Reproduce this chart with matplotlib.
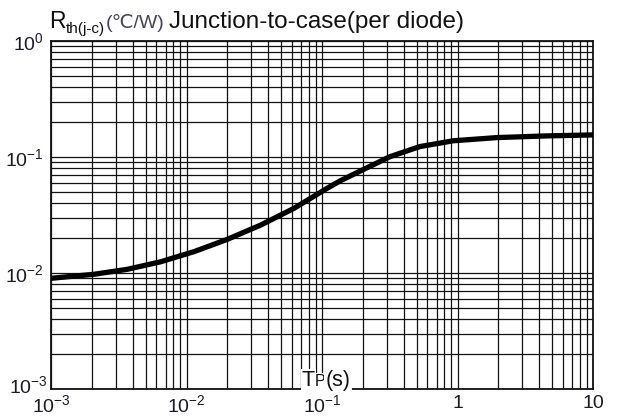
import matplotlib
matplotlib.use("Agg")
import matplotlib.pyplot as plt
from matplotlib.ticker import FixedLocator, FixedFormatter, LogLocator, NullFormatter
from matplotlib.transforms import IdentityTransform

plt.rcParams['font.family'] = ['Liberation Sans', 'DejaVu Sans']
plt.rcParams['mathtext.fontset'] = 'custom'
plt.rcParams['mathtext.rm'] = 'Liberation Sans'

# Data
tp = [0.001, 0.00208, 0.00366, 0.00645, 0.0114, 0.02, 0.0353, 0.0621, 0.109,
      0.137, 0.202, 0.318, 0.528, 0.931, 1.95, 4.55, 10]
rth = [0.0090, 0.00975, 0.01076, 0.0125, 0.0153, 0.0195, 0.0259, 0.0361, 0.0537,
       0.0625, 0.078, 0.1007, 0.123, 0.138, 0.147, 0.152, 0.155]

x_ticks = [1e-3, 1e-2, 1e-1, 1, 10]
x_labels = [r'$\mathregular{10^{-3}}$', r'$\mathregular{10^{-2}}$',
            r'$\mathregular{10^{-1}}$', '1', '10']
y_ticks = [1e-3, 1e-2, 1e-1, 1]
y_labels = [r'$\mathregular{10^{-3}}$', r'$\mathregular{10^{-2}}$',
            r'$\mathregular{10^{-1}}$', r'$\mathregular{10^{0}}$']

W, H = 619, 419
fig = plt.figure(figsize=(W / 100, H / 100), dpi=100)
ax = fig.add_axes([51 / W, 1 - 389 / H, 542 / W, 348 / H])
ax.set_xscale('log')
ax.set_yscale('log')
ax.set_xlim(1e-3, 10)
ax.set_ylim(1e-3, 1)

ax.xaxis.set_major_locator(FixedLocator(x_ticks))
ax.xaxis.set_major_formatter(FixedFormatter(x_labels))
ax.yaxis.set_major_locator(FixedLocator(y_ticks))
# bottom y label is drawn separately (raised slightly, as in the reference)
ax.yaxis.set_major_formatter(FixedFormatter([''] + y_labels[1:]))
ax.xaxis.set_minor_locator(LogLocator(base=10, subs=range(2, 10), numticks=20))
ax.yaxis.set_minor_locator(LogLocator(base=10, subs=range(2, 10), numticks=20))
ax.xaxis.set_minor_formatter(NullFormatter())
ax.yaxis.set_minor_formatter(NullFormatter())

ax.grid(True, which='both', color='#111111', linewidth=0.9)
ax.tick_params(which='both', length=0, labelsize=14, labelcolor='#1a1a2a')
ax.tick_params(axis='x', pad=4)
ax.tick_params(axis='y', pad=5)
for s in ax.spines.values():
    s.set_linewidth(1.3)
    s.set_color('#111111')

ax.plot(tp, rth, color='black', linewidth=3.8, solid_capstyle='round',
        solid_joinstyle='round', zorder=5)

fig.canvas.draw()
renderer = fig.canvas.get_renderer()
ident = IdentityTransform()


def place(s, x, base_from_top, ha='left', **kw):
    t = fig.text(x, H - base_from_top, s, transform=ident, va='baseline',
                 ha=ha, **kw)
    bb = t.get_window_extent(renderer)
    return bb.x1, t


place(y_labels[0], 48, 393, ha='right', size=14, color='#1a1a2a')

# title
x = 49
x, _ = place('R', x, 28, size=16.5, color='#111111')
x, _ = place('th(j-c)', x, 33, size=11, color='#111111')
x, _ = place('(℃/W)', x + 1, 28, size=14, color='#444455',
             family=['Liberation Sans', 'DejaVu Sans'])
x, _ = place('Junction-to-case(per diode)', x + 5, 28, size=17.5, color='#111111')

# x-axis label inside plot with white background
wb = dict(facecolor='white', edgecolor='none', pad=1.0)
x = 302
x, _ = place('T', x, 386, size=15.5, color='#111111', bbox=wb)
x, _ = place('P', x, 386, size=11.5, color='#111111', bbox=wb)
x, _ = place('(s)', x, 386, size=15.5, color='#111111', bbox=wb)

fig.savefig('out.png', dpi=100)
